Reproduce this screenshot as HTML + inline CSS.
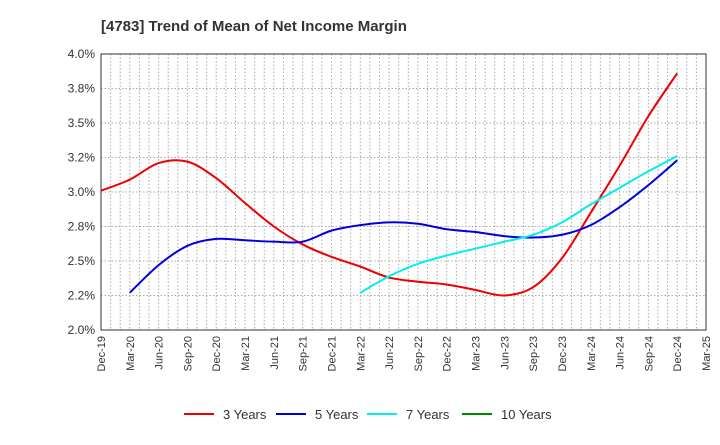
<!DOCTYPE html>
<html><head><meta charset="utf-8"><style>
body{margin:0;background:#fff;font-family:"Liberation Sans",sans-serif}
svg text{font-family:"Liberation Sans",sans-serif}
</style></head><body>
<svg id="chart" width="720" height="440" xmlns="http://www.w3.org/2000/svg">
<text x="101" y="31" font-size="15" font-weight="bold" fill="#333">[4783]  Trend of Mean of Net Income Margin</text>
<g id="grid"></g><g id="axes"></g><g id="series"></g><g id="legend"></g>
</svg>
<script>
const xLabels=["Dec-19","Mar-20","Jun-20","Sep-20","Dec-20","Mar-21","Jun-21","Sep-21","Dec-21","Mar-22","Jun-22","Sep-22","Dec-22","Mar-23","Jun-23","Sep-23","Dec-23","Mar-24","Jun-24","Sep-24","Dec-24","Mar-25"];
const yTicks=[2.0,2.25,2.5,2.75,3.0,3.25,3.5,3.75,4.0];
const yTickLabels=["2.0%","2.2%","2.5%","2.8%","3.0%","3.2%","3.5%","3.8%","4.0%"];
const s3=[3.01,3.09,3.21,3.22,3.1,2.92,2.75,2.62,2.53,2.46,2.38,2.35,2.33,2.29,2.25,2.31,2.52,2.85,3.19,3.55,3.86];
const s5=[null,2.27,2.47,2.61,2.66,2.65,2.64,2.64,2.72,2.76,2.78,2.77,2.73,2.71,2.68,2.67,2.69,2.76,2.89,3.05,3.23];
const s7=[null,null,null,null,null,null,null,null,null,2.27,2.39,2.48,2.54,2.59,2.64,2.69,2.78,2.91,3.03,3.15,3.26];
const s10=[];
const L=101,R=706,T=54,B=330;
const X=i=>L+(R-L)*i/(xLabels.length-1);
const Y=v=>B-(B-T)*(v-2)/2;
const NS="http://www.w3.org/2000/svg";
function mk(tag,attrs,parent){const e=document.createElementNS(NS,tag);for(const k in attrs)e.setAttribute(k,attrs[k]);parent.appendChild(e);return e;}
const grid=document.getElementById('grid'),axes=document.getElementById('axes'),ser=document.getElementById('series'),leg=document.getElementById('legend');
for(let m=1;m<(xLabels.length-1)*3;m++){const x=L+(R-L)*m/((xLabels.length-1)*3);
const g=mk('line',{x1:x,x2:x,y1:T,y2:B,stroke:'#aaa','stroke-dasharray':'1.5,2','stroke-width':1},grid);
}
yTicks.forEach((v,i)=>{const y=Y(v);
const g=mk('line',{x1:L,x2:R,y1:y,y2:y,stroke:'#aaa','stroke-dasharray':'1.5,2','stroke-width':1},grid);

const t=mk('text',{x:L-6,y:y+4,'text-anchor':'end','font-size':12,fill:'#333'},axes);t.textContent=yTickLabels[i];
});
xLabels.forEach((s,i)=>{const x=X(i);
const t=mk('text',{x:0,y:0,'text-anchor':'end','font-size':11,fill:'#333',transform:`translate(${x+4},${B+6}) rotate(-90)`},axes);t.textContent=s;
});
const fr=mk('rect',{x:L,y:T,width:R-L,height:B-T,fill:'none',stroke:'#333','stroke-width':1},axes);

function path(arr){const p=[];arr.forEach((v,i)=>{if(v!=null)p.push([X(i),Y(v)]);});if(p.length<2)return '';
let d=`M${p[0][0]},${p[0][1]}`;for(let i=0;i<p.length-1;i++){const p0=p[i-1]||p[i],p1=p[i],p2=p[i+1],p3=p[i+2]||p2;
d+=` C${p1[0]+(p2[0]-p0[0])/6},${p1[1]+(p2[1]-p0[1])/6} ${p2[0]-(p3[0]-p1[0])/6},${p2[1]-(p3[1]-p1[1])/6} ${p2[0]},${p2[1]}`;}return d;}
const series=[[s3,'#e00','3 Years','line-3-years'],[s5,'#00d','5 Years','line-5-years'],[s7,'#0ee','7 Years','line-7-years'],[s10,'#080','10 Years','line-10-years']];
const lx=[184,276,367,462];
series.forEach((s,k)=>{const d=path(s[0]);if(d){const e=mk('path',{d,fill:'none',stroke:s[1],'stroke-width':2},ser);
}
const ln=mk('line',{x1:lx[k],x2:lx[k]+30,y1:414,y2:414,stroke:s[1],'stroke-width':2},leg);

const t=mk('text',{x:lx[k]+39,y:419,'font-size':13,fill:'#333'},leg);t.textContent=s[2];
});
</script>
</body></html>
